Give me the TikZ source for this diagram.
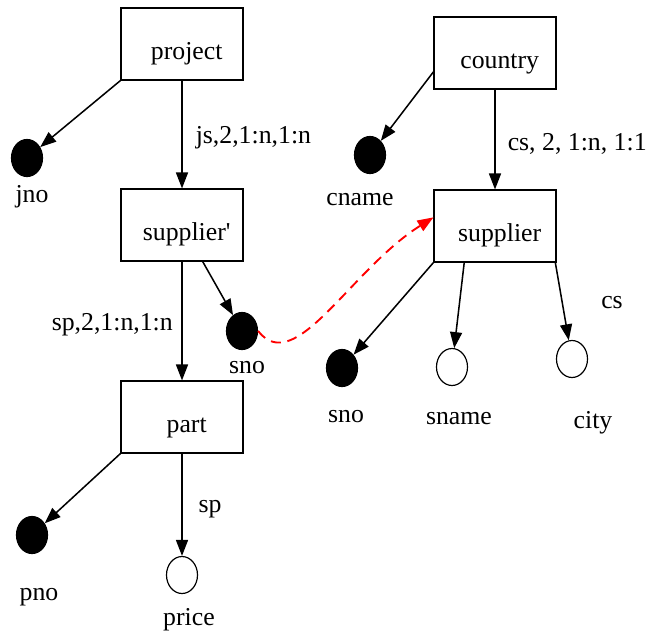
\documentclass[tikz,border=0pt]{standalone}
\usepackage{fontspec}
\setmainfont{Liberation Serif}
\usetikzlibrary{arrows.meta, shapes.geometric, calc}
\definecolor{cred}{HTML}{FF0000}
\tikzset{
  every picture/.style={font=\fontsize{22}{26}\selectfont, line width=1.3pt},
  ent/.style={draw, line width=1.5pt, minimum width=3.64cm, minimum height=2.14cm, inner sep=0pt,
    text height=26pt, text depth=0pt},
  attr/.style={draw, ellipse, line width=1pt, minimum width=0.93cm, minimum height=1.11cm, inner sep=0pt},
  key/.style={attr, fill=black},
  lbl/.style={inner sep=0pt, anchor=base},
  arrow/.style={-{Triangle[length=4.8mm, width=3.6mm]}},
  link/.style={-{Triangle[length=4.8mm, width=3.6mm, fill=cred]}, draw=cred, dash pattern=on 3mm off 2mm, line width=1.6pt},
}

\begin{document}
\begin{tikzpicture}[x=0.03cm, y=-0.03cm]
  \useasboundingbox (0,0) rectangle (656,639);
  % entities
  \node[ent] (proj) at (182,44) {\hspace{8pt}project};
  \node[ent] (ctry) at (495,53) {\hspace{8pt}country};
  \node[ent] (supp) at (182,225) {\hspace{8pt}supplier\textquotesingle};
  \node[ent] (sup) at (495,226) {\hspace{8pt}supplier};
  \node[ent] (part) at (182,417) {\hspace{8pt}part};
  % attributes
  \node[key] (jno) at (27,158) {};
  \node[lbl] (jnol) at (32,202) {jno};
  \node[key] (cname) at (370,155) {};
  \node[lbl] (cnamel) at (360,205) {cname};
  \node[key] (sno1) at (242,331) {};
  \node[lbl] (sno1l) at (247,373) {sno};
  \node[key] (sno2) at (342,368) {};
  \node[lbl] (sno2l) at (346,422) {sno};
  \node[attr] (sname) at (452,367) {};
  \node[lbl] (snamel) at (459,424) {sname};
  \node[attr] (city) at (572,359) {};
  \node[lbl] (cityl) at (593,428) {city};
  \node[key] (pno) at (32,535) {};
  \node[lbl] (pnol) at (39,600) {pno};
  \node[attr] (price) at (182,575) {};
  \node[lbl] (pricel) at (189,625) {price};
  % edge labels
  \node[lbl, anchor=base west] (js) at (195,143) {js,2,1:n,1:n};
  \node[lbl, anchor=base west] (cs) at (507,150) {cs, 2, 1:n, 1:1};
  \node[lbl, anchor=base west] (sp) at (51,330) {sp,2,1:n,1:n};
  \node[lbl] (cs2) at (612,308) {cs};
  \node[lbl] (sp2) at (210,512) {sp};
  % connectors
  \draw[arrow] (proj.south west) -- (jno);
  \draw[arrow] (proj) -- (supp);
  \draw[arrow] (ctry.197) -- (cname);
  \draw[arrow] (ctry) -- (sup);
  \draw[arrow] (supp) -- (part);
  \draw[arrow] (supp) -- (sno1);
  \draw[arrow] (sup.south west) -- (sno2);
  \draw[arrow] ($(sup.south west)!0.25!(sup.south east)$) -- (sname);
  \draw[arrow] ($(sup.south west)!0.99!(sup.south east)$) -- (city);
  \draw[arrow] (part.south west) -- (pno);
  \draw[arrow] (part) -- (price);
  \draw[link] (sno1.east) .. controls (295,378) and (350,270) .. (sup.172);
\end{tikzpicture}
\end{document}
